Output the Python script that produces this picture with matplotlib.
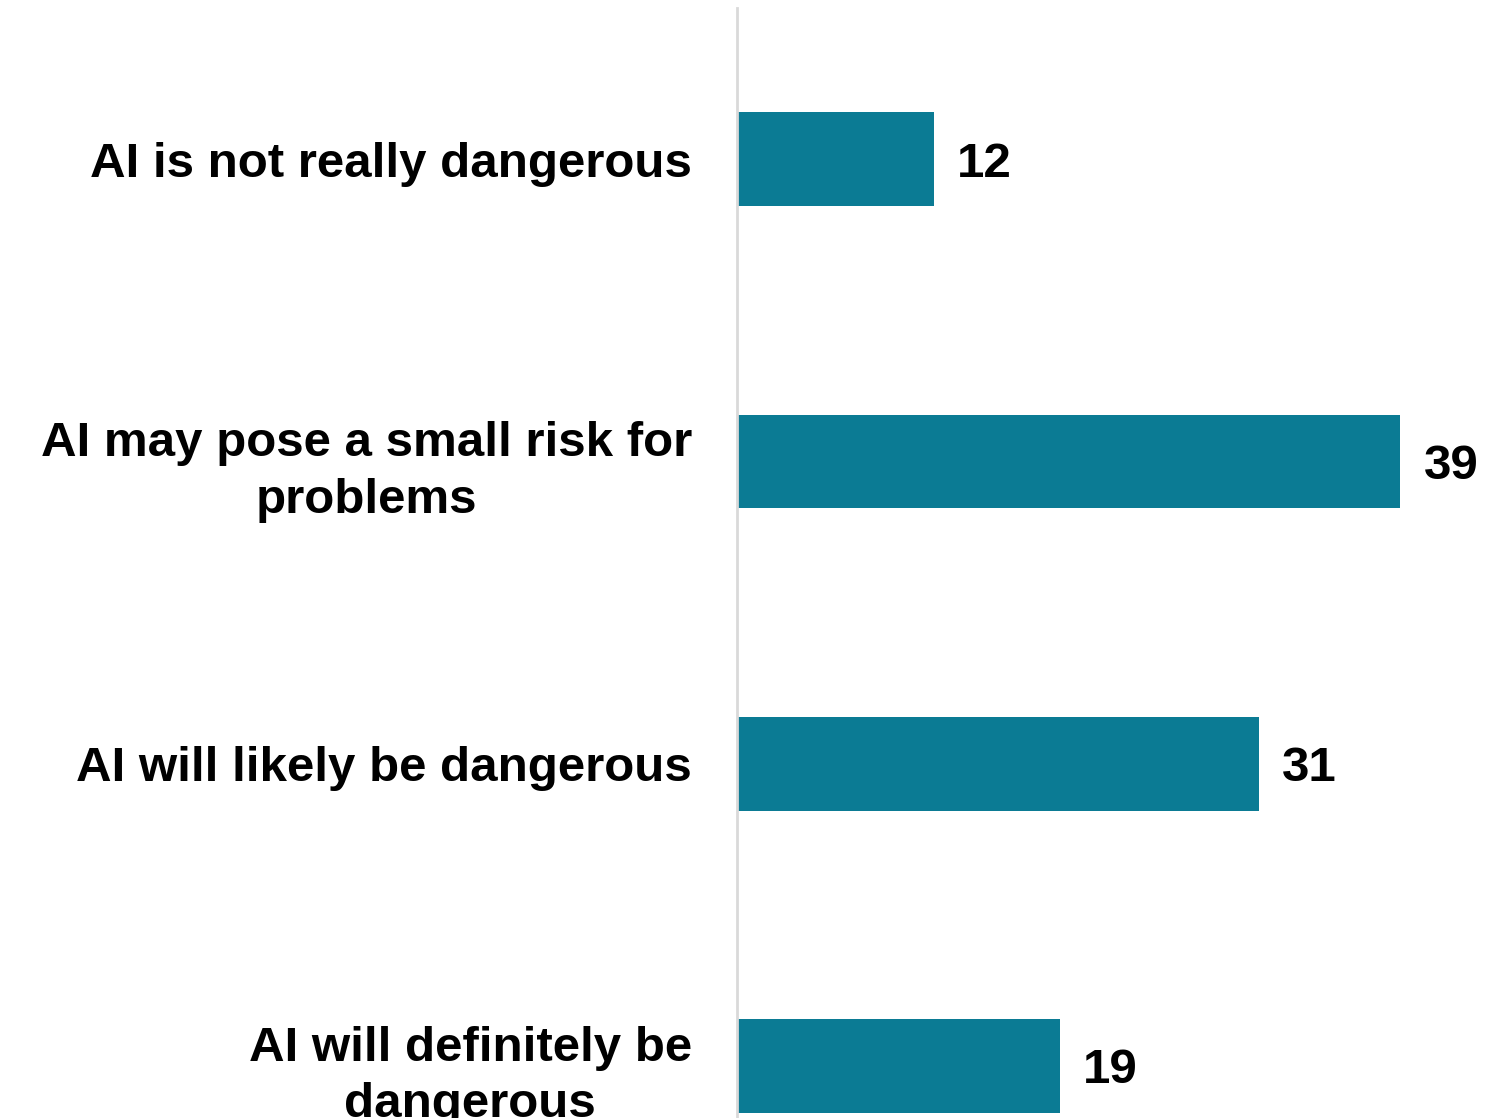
import numpy as np
import matplotlib.pyplot as plt

categories = ['AI is not really dangerous',
              'AI may pose a small risk for\nproblems',
              'AI will likely be dangerous',
              'AI will definitely be\ndangerous']
values = [11.6, 39.0, 30.7, 19.0]
value_labels = ['12', '39', '31', '19']

bar_color = '#0b7b94'

plt.rcParams['font.family'] = ['Liberation Sans', 'DejaVu Sans']

fig = plt.figure(figsize=(15.03, 11.18), dpi=100)
ax = fig.add_axes([0.4904, -0.0886, 0.464, 1.0814])

y = np.arange(len(categories))
ax.barh(y, values, height=0.31, color=bar_color)
ax.set_ylim(3.5, -0.5)
ax.set_xlim(0, 41)

# value labels next to each bar
for yi, v, lab in zip(y, values, value_labels):
    ax.text(v + 1.35, yi, lab, va='center_baseline', ha='left',
            fontsize=35.5, fontweight='bold')

ax.set_yticks(y)
ax.set_yticklabels(categories, fontsize=35.5, fontweight='bold',
                   multialignment='center', linespacing=1.33)
ax.tick_params(axis='y', length=0, pad=32.5)
ax.set_xticks([])

for s in ['top', 'right', 'bottom']:
    ax.spines[s].set_visible(False)
ax.spines['left'].set_color('#d9d9d9')
ax.spines['left'].set_linewidth(2)

fig.savefig('out.png', dpi=100)
